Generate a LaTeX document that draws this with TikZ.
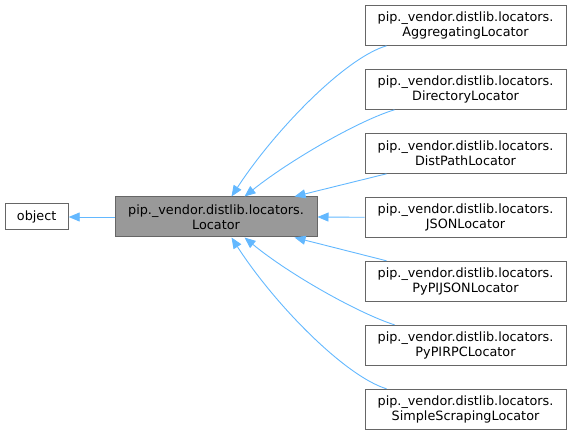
\documentclass[tikz,border=0pt]{standalone}
\usepackage{fontspec}
\setmainfont{DejaVu Sans}
\usetikzlibrary{arrows.meta,calc}
\definecolor{edgeblue}{HTML}{63B8FF}
\definecolor{boxborder}{HTML}{666666}
\definecolor{locfill}{HTML}{999999}
\begin{document}
\begin{tikzpicture}[x=1pt,y=-1pt,
  box/.style={draw=boxborder, line width=1pt, fill=white, inner sep=0pt,
    minimum width=201pt, minimum height=40pt, align=center,
    font=\fontsize{12.8}{15}\selectfont},
  edge/.style={draw=edgeblue, line width=0.9pt, {Triangle[length=11pt,width=9pt]}-}
]
\useasboundingbox (0,0) rectangle (572,435);
\node[box, minimum width=63pt, minimum height=26pt] (obj) at (36.7,217) {object};
\node[box, fill=locfill, minimum width=202pt] (loc) at (216,217) {pip.\_vendor.distlib.locators.\\Locator};
\node[box] (agg) at (465.5,25.3) {pip.\_vendor.distlib.locators.\\AggregatingLocator};
\node[box] (dir) at (465.5,89.3) {pip.\_vendor.distlib.locators.\\DirectoryLocator};
\node[box] (dist) at (465.5,153.3) {pip.\_vendor.distlib.locators.\\DistPathLocator};
\node[box] (json) at (465.5,217.3) {pip.\_vendor.distlib.locators.\\JSONLocator};
\node[box] (pj) at (465.5,281.3) {pip.\_vendor.distlib.locators.\\PyPIJSONLocator};
\node[box] (rpc) at (465.5,345.3) {pip.\_vendor.distlib.locators.\\PyPIRPCLocator};
\node[box] (ss) at (465.5,409.3) {pip.\_vendor.distlib.locators.\\SimpleScrapingLocator};

\draw[edge] (obj.east) -- (loc.west);
\draw[edge] ([xshift=117pt]loc.north west) .. controls (275,130) and (345,58) .. ([xshift=22pt]agg.south west);
\draw[edge] ([xshift=130pt]loc.north west) .. controls (290,160) and (360,120) .. ([xshift=30pt]dir.south west);
\draw[edge] ([xshift=180pt]loc.north west) -- ([xshift=22pt]dist.south west);
\draw[edge] (loc.east) -- (json.west);
\draw[edge] ([xshift=180pt]loc.south west) -- ([xshift=22pt]pj.north west);
\draw[edge] ([xshift=130pt]loc.south west) .. controls (290,275) and (360,314) .. ([xshift=30pt]rpc.north west);
\draw[edge] ([xshift=117pt]loc.south west) .. controls (275,305) and (345,376) .. ([xshift=22pt]ss.north west);
\end{tikzpicture}
\end{document}
